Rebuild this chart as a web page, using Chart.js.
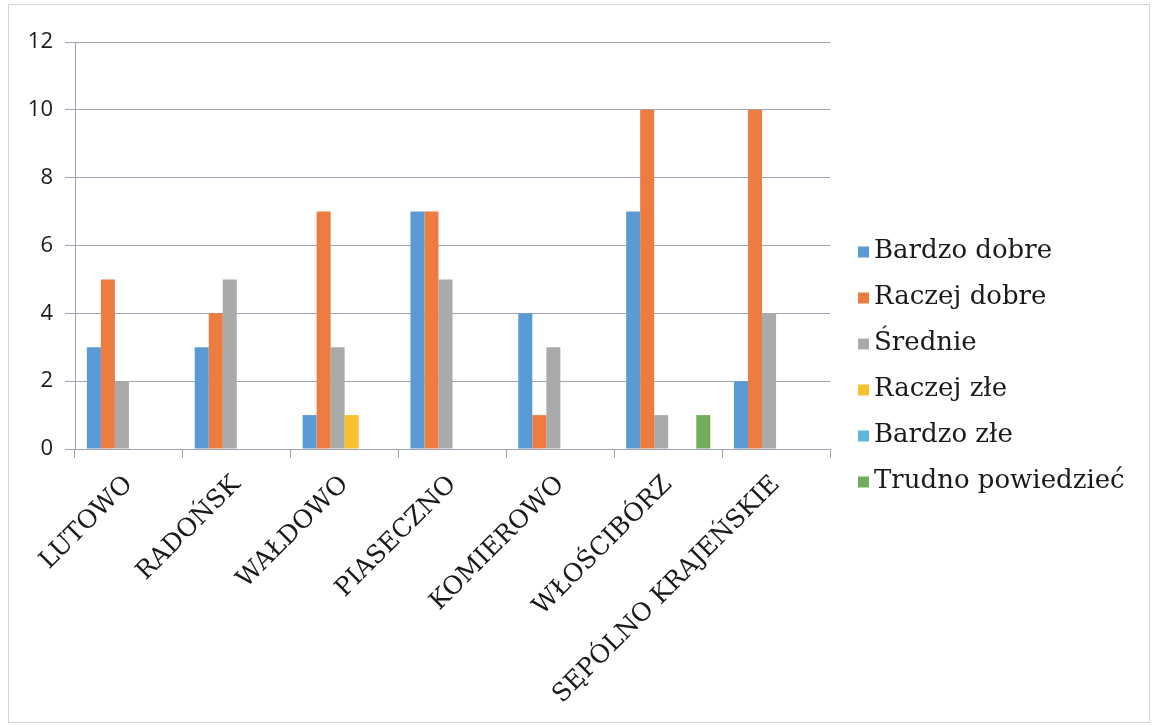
<!DOCTYPE html>
<html>
<head>
<meta charset="utf-8">
<script src="https://cdn.jsdelivr.net/npm/chart.js@4"></script>
<style>
  html, body { margin: 0; padding: 0; background: #fff; }
  #wrap { position: absolute; left: 0; top: 0; width: 1154px; height: 725px; }
  #frame { position: absolute; left: 8px; top: 4px; width: 1140px; height: 717px; border: 1px solid #d4d4d4; pointer-events: none; }
</style>
</head>
<body>
<div id="wrap"><canvas id="chart" width="1154" height="725"></canvas></div>
<div id="frame"></div>
<script>
const categories = ['LUTOWO', 'RADOŃSK', 'WAŁDOWO', 'PIASECZNO', 'KOMIEROWO', 'WŁOŚCIBÓRZ', 'SĘPÓLNO KRAJEŃSKIE'];
const seriesNames = ['Bardzo dobre', 'Raczej dobre', 'Średnie', 'Raczej złe', 'Bardzo złe', 'Trudno powiedzieć'];
const bardzoDobre = [3, 3, 1, 7, 4, 7, 2];
const raczejDobre = [5, 4, 7, 7, 1, 10, 10];
const srednie = [2, 5, 3, 5, 3, 1, 4];
const raczejZle = [0, 0, 1, 0, 0, 0, 0];
const bardzoZle = [0, 0, 0, 0, 0, 0, 0];
const trudnoPowiedziec = [0, 0, 0, 0, 0, 1, 0];
const yTicks = [0, 2, 4, 6, 8, 10, 12];

const colors = ['#5b9bd5', '#ec7c3f', '#a9aaa9', '#f9c12c', '#5fb4dc', '#72ad5c'];
const values = [bardzoDobre, raczejDobre, srednie, raczejZle, bardzoZle, trudnoPowiedziec];

// built-in legend is capped at a quarter of the width, so draw it here
const sideLegend = {
    id: 'sideLegend',
    afterDraw(chart) {
        const c = chart.ctx;
        const area = chart.chartArea;
        const step = 46;
        const sets = chart.data.datasets;
        const x = area.right + 28;
        let y = chart.height / 2 + 4 - step * (sets.length - 1) / 2;
        c.save();
        c.font = '26px "DejaVu Serif"';
        c.textBaseline = 'middle';
        c.fillStyle = '#1a1a1a';
        sets.forEach(ds => {
            c.fillStyle = ds.backgroundColor;
            c.fillRect(x, y - 5, 11, 11);
            c.fillStyle = '#1a1a1a';
            c.fillText(ds.label, x + 16, y);
            y += step;
        });
        c.restore();
    }
};

const ctx = document.getElementById('chart').getContext('2d');
new Chart(ctx, {
    type: 'bar',
    data: {
        labels: categories,
        datasets: values.map((data, i) => ({
            label: seriesNames[i],
            data: data,
            backgroundColor: colors[i],
            borderWidth: 0,
            categoryPercentage: 0.78,
            barPercentage: 1
        }))
    },
    options: {
        responsive: false,
        animation: false,
        layout: { padding: { top: 42, right: 324, left: 0, bottom: 0 } },
        plugins: {
            tooltip: { enabled: false },
            legend: { display: false }
        },
        scales: {
            x: {
                grid: { drawOnChartArea: false, tickLength: 9, color: '#9ea2b4', offset: true },
                border: { color: '#9ea2b4' },
                afterFit: scale => { scale.height = 725 - 449; },
                ticks: {
                    minRotation: 45,
                    maxRotation: 45,
                    color: '#1a1a1a',
                    padding: 12,
                    font: { family: 'DejaVu Serif', size: 25 }
                }
            },
            y: {
                min: 0,
                max: 12,
                afterBuildTicks: scale => { scale.ticks = yTicks.map(v => ({ value: v })); },
                afterFit: scale => { scale.width = 75; },
                grid: { color: '#9ea2b4', tickLength: 10 },
                border: { color: '#9ea2b4' },
                ticks: {
                    color: '#1a1a1a',
                    padding: 12,
                    font: { family: 'Open Sans', size: 22 }
                }
            }
        }
    },
    plugins: [sideLegend]
});
</script>
</body>
</html>
